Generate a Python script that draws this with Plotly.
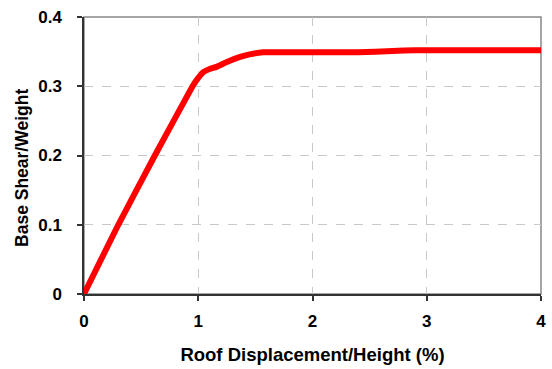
import plotly.graph_objects as go

drift = [0, 0.30, 0.62, 0.95, 1.0, 1.05, 1.10, 1.16, 1.25, 1.36, 1.45, 1.57, 2.0, 2.4, 2.7, 2.9, 3.5, 4.0]
shear = [0, 0.100, 0.200, 0.300, 0.312, 0.321, 0.325, 0.328, 0.335, 0.342, 0.346, 0.349, 0.349, 0.349, 0.351, 0.352, 0.352, 0.352]

x_ticks = [0, 1, 2, 3, 4]
y_ticks = [0, 0.1, 0.2, 0.3, 0.4]
y_tick_text = ["0", "0.1", "0.2", "0.3", "0.4"]

FONT = "Liberation Sans, Arial, sans-serif"

fig = go.Figure()
fig.add_trace(go.Scatter(x=drift, y=shear, mode="lines",
                         line=dict(color="#ff0000", width=6, shape="spline", smoothing=0.3),
                         showlegend=False, cliponaxis=False))

fig.update_layout(
    width=552, height=369,
    margin=dict(l=84, r=6, t=17, b=75),
    paper_bgcolor="white", plot_bgcolor="white",
    font=dict(family=FONT, color="black"),
    shapes=[dict(type="rect", xref="paper", yref="paper", x0=0, y0=0, x1=1, y1=1,
                 line=dict(color="#888888", width=1.5), layer="below")],
    annotations=[dict(text="<b>Base Shear/Weight</b>", xref="paper", yref="paper",
                      x=0, y=0.455, xanchor="center", yanchor="middle", xshift=-62,
                      textangle=-90, showarrow=False, font=dict(size=17.5, family=FONT))],
)
fig.update_xaxes(
    range=[0, 4], tickvals=x_ticks, ticktext=[str(v) for v in x_ticks],
    showgrid=True, gridcolor="#c8c8c8", griddash="dash", gridwidth=1,
    showline=True, linecolor="#333333", linewidth=1.5,
    ticks="outside", ticklen=5, tickcolor="#333333", tickwidth=1.5,
    tickfont=dict(size=17, family=FONT, weight="bold"),
    ticklabelstandoff=6,
    zeroline=False,
    title=dict(text="<b>Roof Displacement/Height (%)</b>", font=dict(size=18.5, family=FONT), standoff=18),
)
fig.update_yaxes(
    range=[0, 0.4], tickvals=y_ticks, ticktext=y_tick_text,
    showgrid=True, gridcolor="#c8c8c8", griddash="dash", gridwidth=1,
    showline=True, linecolor="#333333", linewidth=1.5,
    ticks="outside", ticklen=5, tickcolor="#333333", tickwidth=1.5,
    tickfont=dict(size=17, family=FONT, weight="bold"),
    ticklabelstandoff=12,
    zeroline=False,
)

fig.write_html("out.html")
